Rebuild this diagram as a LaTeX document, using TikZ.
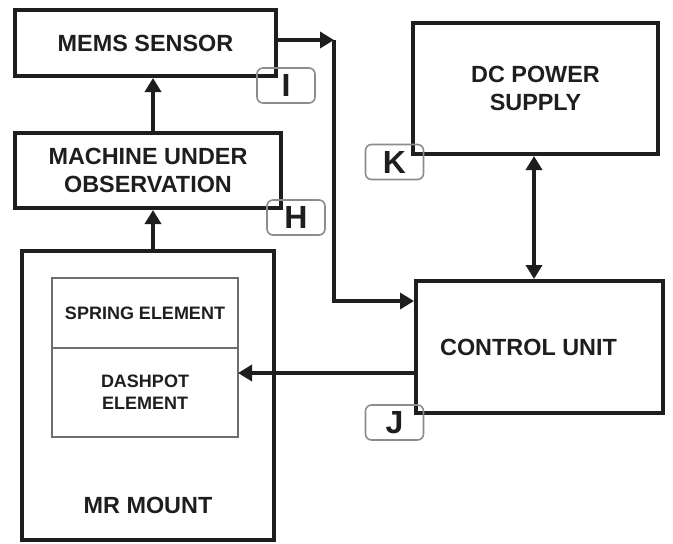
\documentclass[tikz,border=0pt]{standalone}
\usepackage{fontspec}
\setmainfont{Liberation Sans}
\usepackage{tikz}
\usetikzlibrary{calc, positioning, arrows.meta}
\definecolor{inkgrey}{RGB}{30,30,30}
\definecolor{framegrey}{RGB}{110,110,110}
\definecolor{taggrey}{RGB}{140,140,140}

\begin{document}
\begin{tikzpicture}[
  x=0.5pt, y=-0.5pt,
  font=\bfseries\fontsize{11.7}{14}\selectfont,
  blockbox/.style={draw=inkgrey, line width=2pt, align=center, inner sep=0pt, text=inkgrey},
  elembox/.style={draw=framegrey, line width=0.7pt, minimum width=93pt, outer sep=0pt, align=center, inner sep=0pt, text=inkgrey, font=\bfseries\fontsize{9}{11}\selectfont},
  tagbox/.style={draw=taggrey, line width=0.8pt, rounded corners=3pt, minimum width=29pt, minimum height=17.5pt, inner sep=0pt, text=inkgrey, font=\bfseries\fontsize{16}{16}\selectfont},
  sigedge/.style={-{Triangle[length=7pt,width=8pt]}, line width=2pt, draw=inkgrey},
  bothedge/.style={sigedge, {Triangle[length=7pt,width=8pt]}-{Triangle[length=7pt,width=8pt]}}
]
\useasboundingbox (0,0) rectangle (673,543);

% Left column
\node[blockbox, minimum width=130.5pt, minimum height=33pt] (mems) at (145.5,43) {MEMS SENSOR};
\node[blockbox, minimum width=133pt, minimum height=37.5pt] (machine) at (148,170.5) {MACHINE UNDER\\OBSERVATION};
\node[blockbox, minimum width=126pt, minimum height=144.5pt] (mount) at (148,395.5) {};
\node[elembox, minimum height=35pt] (spring) at (145,313) {SPRING ELEMENT};
\node[elembox, minimum height=44.5pt, below=0pt of spring] (dashpot) {DASHPOT\\ELEMENT};
\node[text=inkgrey] (mountlab) at (148,505) {MR MOUNT};

% Right column
\node[blockbox, minimum width=122.5pt, minimum height=65.5pt] (dc) at (535.5,88.5) {DC POWER\\SUPPLY};
\node[blockbox, minimum width=123.5pt, minimum height=66pt,
  label={[text=inkgrey, xshift=-5.5pt]center:CONTROL UNIT}] (ctrl) at (539.5,347) {};

% Letter tags
\node[tagbox] (tagI) at (286,85.5) {I};
\node[tagbox] (tagH) at (296,217.5) {H};
\node[tagbox] (tagK) at (394.5,162) {K};
\node[tagbox] (tagJ) at (394.5,422.5) {J};

% Edges
\coordinate (bend) at ([xshift=28pt, yshift=1.5pt]mems.east);
\draw[sigedge] ([yshift=1.5pt]mems.east) -- (bend);
\draw[sigedge] (bend) |- ([yshift=-11pt]ctrl.north west);
\draw[sigedge] ([xshift=2.5pt]machine.north) -- ([xshift=2.5pt]machine.north |- mems.south);
\draw[sigedge] ([xshift=2.5pt]mount.north) -- ([xshift=2.5pt]mount.north |- machine.south);
\draw[sigedge] ([yshift=-13pt]ctrl.west) -- ([yshift=-13pt]ctrl.west -| dashpot.east);
\draw[bothedge] ([xshift=-0.75pt]dc.south) -- ([xshift=-0.75pt]dc.south |- ctrl.north);
\end{tikzpicture}
\end{document}
